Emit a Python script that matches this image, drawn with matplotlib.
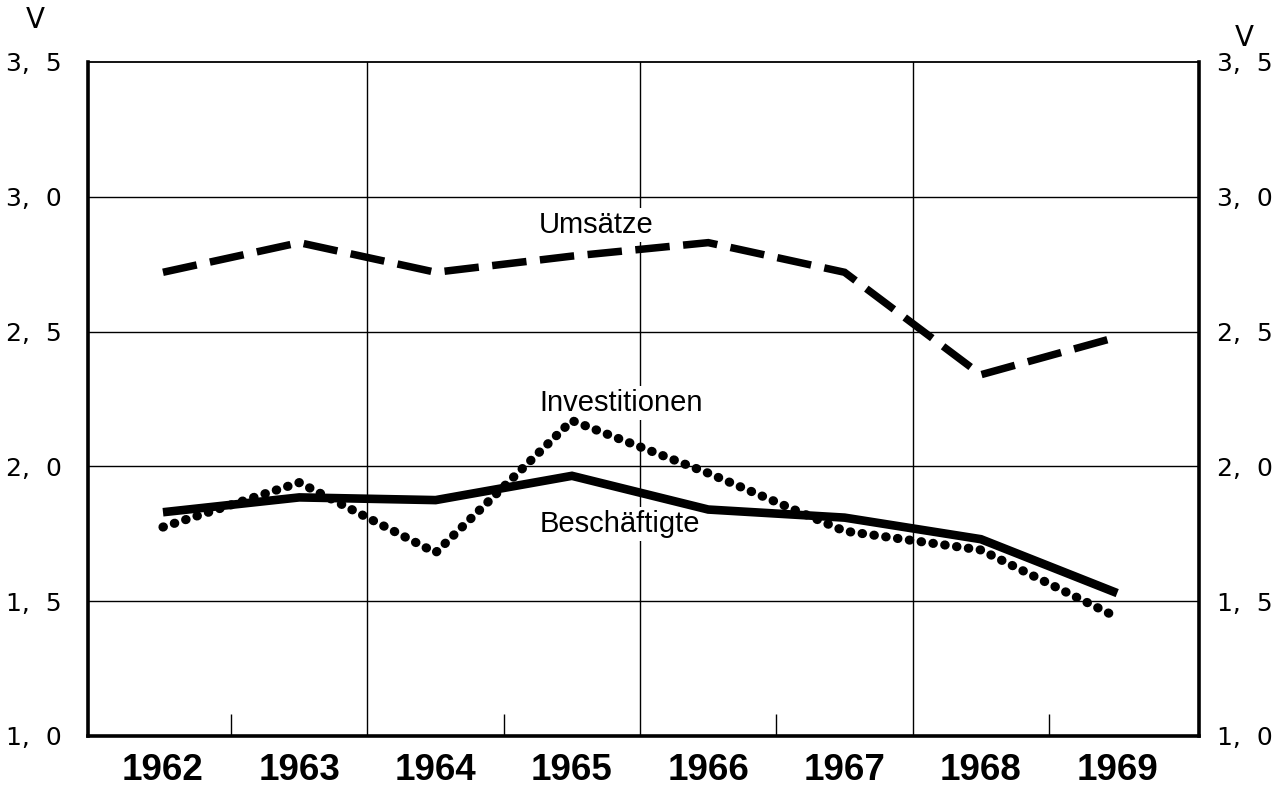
import matplotlib
matplotlib.use("Agg")
import matplotlib.pyplot as plt
from matplotlib.ticker import FixedLocator

# ---- data ----
years = [1962, 1963, 1964, 1965, 1966, 1967, 1968, 1969]
umsaetze = [2.72, 2.83, 2.72, 2.78, 2.83, 2.72, 2.34, 2.48]
beschaeftigte = [1.83, 1.885, 1.875, 1.965, 1.84, 1.81, 1.73, 1.53]
investitionen = [1.775, 1.94, 1.68, 2.17, 1.975, 1.76, 1.69, 1.44]

y_ticks = [1.0, 1.5, 2.0, 2.5, 3.0, 3.5]
y_labels = ["1,  0", "1,  5", "2,  0", "2,  5", "3,  0", "3,  5"]
grid_x = [1963.5, 1965.5, 1967.5]
minor_x = [1962.5, 1964.5, 1966.5, 1968.5]

fig = plt.figure(figsize=(12.86, 7.90), dpi=100)
ax = fig.add_axes([88/1286, 1 - 736/790, (1199-88)/1286, (736-62)/790])

ax.set_xlim(1961.45, 1969.6)
ax.set_ylim(1.0, 3.5)

# grid
for gy in y_ticks[1:-1]:
    ax.axhline(gy, color="black", lw=1.0, zorder=1)
for gx in grid_x:
    ax.axvline(gx, color="black", lw=1.0, zorder=1)

# series
ax.plot(years, umsaetze, color="black", lw=5.4, linestyle=(0, (4.6, 1.8)),
        dash_capstyle="butt", dash_joinstyle="miter", zorder=3)
ax.plot(years, beschaeftigte, color="black", lw=6.2, solid_capstyle="butt",
        solid_joinstyle="miter", zorder=3)
ax.plot(years, investitionen, color="black", lw=6.6, linestyle=(0, (0.05, 1.25)),
        dash_capstyle="round", zorder=3)

# labels
lab_font = dict(family=["Liberation Sans", "DejaVu Sans"], fontsize=21, color="black",
                ha="center", va="baseline", zorder=2,
                bbox=dict(facecolor="white", edgecolor="none", pad=2))
ax.text(1965.18, 2.865, "Umsätze", **lab_font)
ax.text(1965.36, 2.205, "Investitionen", **lab_font)
ax.text(1965.35, 1.757, "Beschäftigte", **lab_font)

# axes styling
for side in ["left", "bottom", "right"]:
    ax.spines[side].set_linewidth(2.6)
ax.spines["top"].set_linewidth(1.3)

ax.set_yticks(y_ticks)
ax.set_yticklabels(y_labels, family=["DejaVu Sans"], fontsize=18)
ax.tick_params(axis="y", length=0, pad=19)

ax2 = ax.twinx()
ax2.set_ylim(ax.get_ylim())
ax2.set_yticks(y_ticks)
ax2.set_yticklabels(y_labels, family=["DejaVu Sans"], fontsize=18)
ax2.tick_params(axis="y", length=0, pad=13)
for s in ax2.spines.values():
    s.set_visible(False)

ax.set_xticks(years)
ax.set_xticklabels([str(y) for y in years],
                   family=["Liberation Sans", "DejaVu Sans"],
                   fontweight="bold", fontsize=26.5)
ax.tick_params(axis="x", which="major", length=0, pad=12)
ax.xaxis.set_minor_locator(FixedLocator(minor_x))
ax.tick_params(axis="x", which="minor", direction="in", length=16, width=1.0)

fig.text(35/1286, 1 - 20/790, "V", fontsize=20, ha="center", va="center",
         family=["DejaVu Sans"])
fig.text(1244/1286, 1 - 38/790, "V", fontsize=20, ha="center", va="center",
         family=["DejaVu Sans"])

fig.savefig("out.png", dpi=100, facecolor="white")
